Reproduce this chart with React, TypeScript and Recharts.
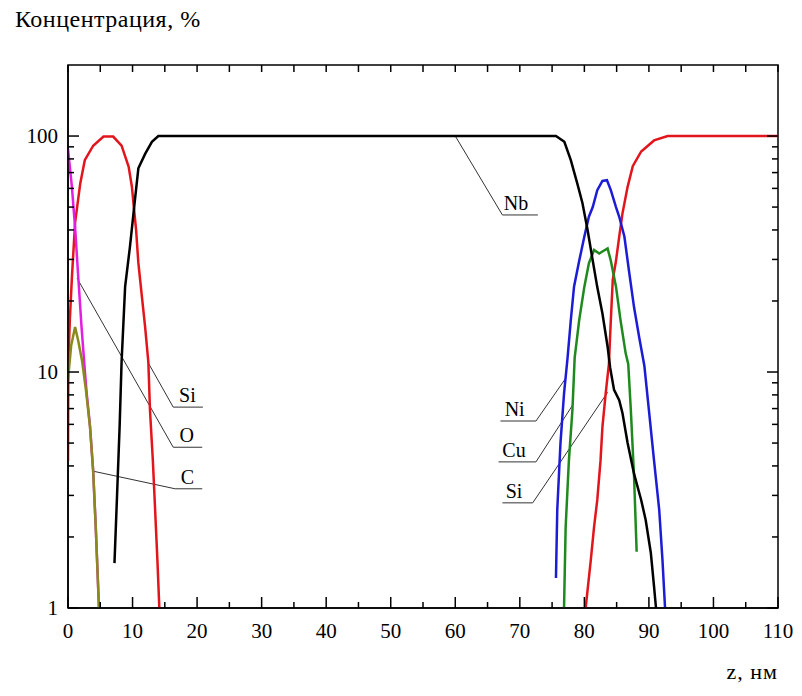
import React from 'react';
import {
  LineChart,
  Line,
  XAxis,
  YAxis,
  ReferenceLine,
  ReferenceDot,
  ReferenceArea,
} from 'recharts';

// depth, nm / concentration, %
const siLeftZ = [0, 0.05, 0.3, 0.6, 1.1, 1.9, 2.6, 3.9, 5.5, 7.0, 8.3, 9.4, 9.9, 10.2, 10.55, 10.9, 11.4, 11.95, 12.45, 12.7, 13.15, 13.5, 13.85, 14.15];
const siLeftC = [4.2, 11, 17, 25, 43, 63, 79, 91, 99.5, 99.5, 91, 74, 61, 50, 40, 29, 21.5, 15.5, 11, 6.9, 4.2, 2.6, 1.6, 1.0];

const oZ = [0, 0.6, 1.1, 1.6, 2.1, 2.6, 2.9, 3.41, 3.9, 4.3, 4.8];
const oC = [88, 61, 41, 25, 15.5, 10.2, 8.1, 5.9, 3.8, 2.2, 1.0];

const cZ = [0, 0.5, 1.1, 1.6, 2.17, 2.8, 3.41, 3.9, 4.3, 4.8];
const cC = [9.3, 13, 15.5, 13.5, 11.2, 8.3, 5.85, 3.8, 2.2, 1.0];

const nbZ = [7.2, 7.6, 8.0, 8.3, 8.85, 9.6, 10.25, 10.9, 11.95, 13.0, 14.0, 73.2, 75.6, 76.9, 77.9, 78.9, 79.7, 80.5, 81.3, 82.0, 82.8, 83.6, 84.0, 84.6, 85.4, 85.9, 86.7, 87.7, 88.8, 89.5, 90.3, 90.8, 91.1];
const nbC = [1.55, 3.0, 5.9, 11, 23, 34, 50, 73, 84, 94.5, 100, 100, 100, 94.5, 79, 63, 52, 40, 29.6, 22.9, 17.7, 12.8, 10.4, 8.4, 7.6, 6.7, 5.0, 3.7, 2.87, 2.36, 1.71, 1.23, 1.0];

const niZ = [75.6, 75.8, 76.3, 76.85, 77.4, 77.9, 78.4, 79.2, 80.0, 80.7, 81.3, 82.0, 82.8, 83.5, 84.1, 84.9, 85.4, 86.2, 86.9, 87.7, 88.5, 89.3, 90.0, 90.8, 91.6, 92.1, 92.5];
const niC = [1.34, 2.6, 5.0, 8.1, 11.5, 16.6, 23, 29.6, 37.5, 45.5, 50, 59, 64.5, 65, 59, 50, 45.5, 37.5, 27, 18.8, 14, 10.6, 6.9, 4.2, 2.6, 1.6, 1.0];

const cuZ = [76.85, 77.1, 77.6, 78.15, 78.5, 79.2, 80.0, 80.7, 81.5, 82.3, 82.8, 83.6, 84.1, 84.9, 85.6, 86.4, 86.8, 87.2, 87.7, 88.1];
const cuC = [1.0, 2.2, 4.2, 6.9, 11.5, 16.6, 23, 28.9, 32.9, 31.8, 32.4, 33.4, 29.6, 23, 16.6, 12, 10.8, 6.9, 3.6, 1.73];

const siRightZ = [80.2, 81.0, 81.5, 82.0, 82.5, 82.8, 83.3, 83.8, 84.1, 84.4, 84.9, 85.4, 85.9, 86.7, 87.5, 88.8, 90.8, 92.9, 110];
const siRightC = [1.0, 1.6, 2.2, 2.87, 4.2, 5.85, 8.1, 10.8, 16.6, 24.6, 29.6, 37.5, 46.9, 60.9, 74.5, 86, 95.8, 100, 100];

const zTicks = [0, 5, 10, 15, 20, 25, 30, 35, 40, 45, 50, 55, 60, 65, 70, 75, 80, 85, 90, 95, 100, 105, 110];
const cTicks = [1, 2, 3, 4, 5, 6, 7, 8, 9, 10, 20, 30, 40, 50, 60, 70, 80, 90, 100];
const cLabels = [1, 10, 100];
const C_MAX = 200;

// leader lines for the element labels (data coordinates)
const labelNames = ['Si', 'O', 'C', 'Nb', 'Ni', 'Cu', 'Si'];
const leaderFrom = [[12.3, 11.1], [1.4, 25], [3.9, 3.8], [60.0, 100], [77.1, 9.4], [78.2, 7.25], [83.6, 8.2]];
const leaderKnee = [[16.3, 7.1], [16.3, 4.8], [16.6, 3.2], [67.3, 46.3], [72.5, 6.2], [72.5, 4.16], [72.0, 2.79]];
const leaderEnd = [[20.9, 7.1], [20.8, 4.8], [20.8, 3.2], [72.8, 46.3], [67.0, 6.2], [66.7, 4.16], [67.3, 2.79]];
const labelZ = [18.5, 18.4, 18.5, 69.4, 69.2, 69.1, 69.1];

const pts = (z: number[], c: number[]) => z.map((v, i) => ({ z: v, c: c[i] }));

const FONT = '"Liberation Serif", "Times New Roman", serif';
const PLOT_W = 710;
// top frame ticks: 7 px of a 236 px/decade log axis
const TOP_TICK_END = C_MAX / Math.pow(10, 7 / 236);

const BottomTick = ({ x, y, payload }: any) => {
  const major = payload.value % 10 === 0;
  return (
    <g>
      <line x1={x} y1={y} x2={x} y2={y - (major ? 11 : 6)} stroke="#000" strokeWidth={1.5} />
      {major && (
        <text x={x} y={y + 30} textAnchor="middle" fontFamily={FONT} fontSize={21} fill="#000">
          {payload.value}
        </text>
      )}
    </g>
  );
};

const LeftTick = ({ x, y, payload }: any) => {
  const major = cLabels.includes(payload.value);
  const len = major ? 11 : 6;
  return (
    <g>
      <line x1={x} y1={y} x2={x + len} y2={y} stroke="#000" strokeWidth={1.5} />
      <line x1={x + PLOT_W} y1={y} x2={x + PLOT_W - len} y2={y} stroke="#000" strokeWidth={1.5} />
      {major && (
        <text x={x - 10} y={y + 7} textAnchor="end" fontFamily={FONT} fontSize={21} fill="#000">
          {payload.value}
        </text>
      )}
    </g>
  );
};

const series = [
  { name: 'Si-1', data: pts(siLeftZ, siLeftC), color: '#e3151c' },
  { name: 'O', data: pts(oZ, oC), color: '#e21ee2' },
  { name: 'C', data: pts(cZ, cC), color: '#8a8a1c' },
  { name: 'Si-2', data: pts(siRightZ, siRightC), color: '#e3151c' },
  { name: 'Ni', data: pts(niZ, niC), color: '#1c1cd6' },
  { name: 'Cu', data: pts(cuZ, cuC), color: '#1e8a1e' },
  { name: 'Nb', data: pts(nbZ, nbC), color: '#000000' },
];

export default function App() {
  return (
    <div style={{ position: 'absolute', left: 0, top: 0, width: 802, height: 696, background: '#fff' }}>
      <div style={{ position: 'absolute', left: 15, top: 6, fontFamily: FONT, fontSize: 24, letterSpacing: 0.5, color: '#000' }}>
        Концентрация, %
      </div>
      <div style={{ position: 'absolute', right: 24, top: 659, fontFamily: FONT, fontSize: 22, letterSpacing: 1, color: '#000' }}>
        z, нм
      </div>
      <LineChart width={802} height={696} margin={{ top: 65, right: 24, bottom: 0, left: 0 }}>
        <XAxis
          dataKey="z"
          type="number"
          domain={[0, 110]}
          ticks={zTicks}
          interval={0}
          allowDataOverflow
          height={88}
          tickSize={0}
          tickMargin={0}
          axisLine={{ stroke: '#000', strokeWidth: 1.5 }}
          tick={(p: any) => <BottomTick {...p} />}
        />
        <YAxis
          dataKey="c"
          scale="log"
          type="number"
          domain={[1, C_MAX]}
          ticks={cTicks}
          interval={0}
          allowDataOverflow
          width={68}
          tickSize={0}
          tickMargin={0}
          axisLine={{ stroke: '#000', strokeWidth: 1.5 }}
          tick={(p: any) => <LeftTick {...p} />}
        />
        <ReferenceArea x1={0} x2={110} y1={1} y2={C_MAX} fill="none" stroke="#000" strokeWidth={1.5} fillOpacity={0} />
        {zTicks.map((z) => (
          <ReferenceLine
            key={`t-${z}`}
            segment={[
              { x: z, y: C_MAX },
              { x: z, y: TOP_TICK_END },
            ]}
            stroke="#000"
            strokeWidth={1.5}
          />
        ))}
        {labelNames.map((name, i) => (
          <ReferenceLine
            key={`a-${i}`}
            segment={[
              { x: leaderFrom[i][0], y: leaderFrom[i][1] },
              { x: leaderKnee[i][0], y: leaderKnee[i][1] },
            ]}
            stroke="#333"
            strokeWidth={1}
          />
        ))}
        {labelNames.map((name, i) => (
          <ReferenceLine
            key={`b-${i}`}
            segment={[
              { x: leaderKnee[i][0], y: leaderKnee[i][1] },
              { x: leaderEnd[i][0], y: leaderEnd[i][1] },
            ]}
            stroke="#333"
            strokeWidth={1}
          />
        ))}
        {series.map((s) => (
          <Line
            key={s.name}
            data={s.data}
            dataKey="c"
            type="linear"
            stroke={s.color}
            strokeWidth={2.5}
            dot={false}
            activeDot={false}
            isAnimationActive={false}
          />
        ))}
        {labelNames.map((name, i) => (
          <ReferenceDot
            key={`l-${i}`}
            x={labelZ[i]}
            y={leaderKnee[i][1]}
            r={1}
            fill="none"
            stroke="none"
            label={{ value: name, position: 'top', offset: 4, fill: '#000', fontSize: 20, fontFamily: FONT }}
          />
        ))}
      </LineChart>
    </div>
  );
}
